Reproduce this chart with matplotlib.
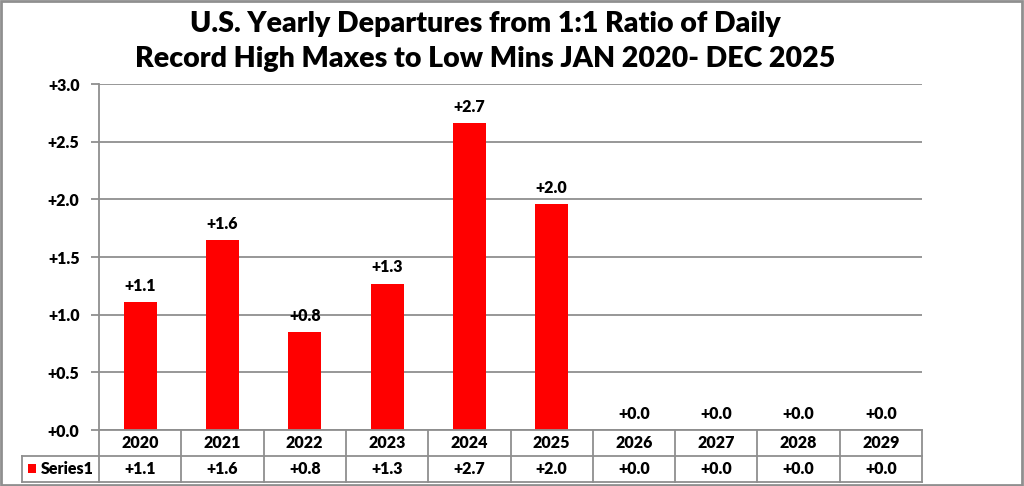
import matplotlib
matplotlib.use("Agg")
from matplotlib import pyplot as plt
from matplotlib.patches import Rectangle
from matplotlib.lines import Line2D

years = ["2020", "2021", "2022", "2023", "2024", "2025", "2026", "2027", "2028", "2029"]
values = [1.11, 1.645, 0.85, 1.27, 2.66, 1.96, 0.0, 0.0, 0.0, 0.0]
series_name = "Series1"
title = "U.S. Yearly Departures from 1:1 Ratio of Daily\nRecord High Maxes to Low Mins JAN 2020- DEC 2025"

plt.rcParams["font.family"] = ["Lato", "DejaVu Sans"]
FW = "heavy"
FS = 11.5

W, H = 1024, 486
fig = plt.figure(figsize=(W / 100, H / 100), dpi=100)
fig.patch.set_facecolor("white")

# axes in pixel coords
left, right, top, bottom = 99, 922, 84, 430
ax = fig.add_axes([left / W, 1 - bottom / H, (right - left) / W, (bottom - top) / H])

grid_c = "#8f8f8f"
x = list(range(len(years)))
ax.bar(x, values, width=0.4, color="#ff0000", zorder=3)
for xi, v in zip(x, values):
    ax.text(xi, v + 0.07, f"{v:+.1f}", ha="center", va="bottom", fontsize=FS,
            fontweight=FW, zorder=4)

ax.set_xlim(-0.5, len(years) - 0.5)
ax.set_ylim(0, 3.0)
ax.set_yticks([i * 0.5 for i in range(7)])
ax.set_yticklabels([f"{t:+.1f}" for t in ax.get_yticks()], fontsize=FS, fontweight=FW)
ax.set_xticks([])
ax.yaxis.grid(True, color=grid_c, linewidth=1.3, zorder=0)
ax.tick_params(axis="y", length=6, width=1.3, color=grid_c, pad=8)
for s in ["top", "right", "bottom"]:
    ax.spines[s].set_visible(False)
ax.spines["left"].set_color(grid_c)
ax.spines["left"].set_linewidth(1.3)

# data table below the axes, drawn in pixel coordinates of the figure
def px(xp, yp):
    return xp / W, 1 - yp / H

def hline(x0, x1, y):
    a, b = px(x0, y), px(x1, y)
    fig.add_artist(Line2D([a[0], b[0]], [a[1], b[1]], color=grid_c, linewidth=1.3))

def vline(xp, y0, y1):
    a, b = px(xp, y0), px(xp, y1)
    fig.add_artist(Line2D([a[0], b[0]], [a[1], b[1]], color=grid_c, linewidth=1.3))

row1, row2, row3 = 430, 456, 482
hline(left, right, row1)
hline(22, right, row2)
hline(22, right, row3)
vline(22, row2, row3)
col_w = (right - left) / len(years)
for i in range(len(years) + 1):
    vline(left + i * col_w, row1, row3)

for i, (yr, v) in enumerate(zip(years, values)):
    cx = left + (i + 0.5) * col_w
    fig.text(*px(cx, (row1 + row2) / 2), yr, ha="center", va="center",
             fontsize=FS, fontweight=FW)
    fig.text(*px(cx, (row2 + row3) / 2), f"{v:+.1f}", ha="center", va="center",
             fontsize=FS, fontweight=FW)

kx, ky = px(28, 473)
fig.add_artist(Rectangle((kx, ky), 8 / W, 9 / H, facecolor="#ff0000", edgecolor="none"))
fig.text(*px(41, (row2 + row3) / 2), series_name, ha="left", va="center",
         fontsize=FS, fontweight=FW)

fig.text(485 / W, 1 - 11 / H, title, ha="center", va="top", fontsize=20.5,
         fontweight=FW, linespacing=1.45)

# outer border
fig.add_artist(Rectangle((0.001, 0.002), 0.997, 0.995, fill=False,
                         edgecolor="#8f8f8f", linewidth=2, transform=fig.transFigure))

fig.savefig("out.png", dpi=100, facecolor="white")
